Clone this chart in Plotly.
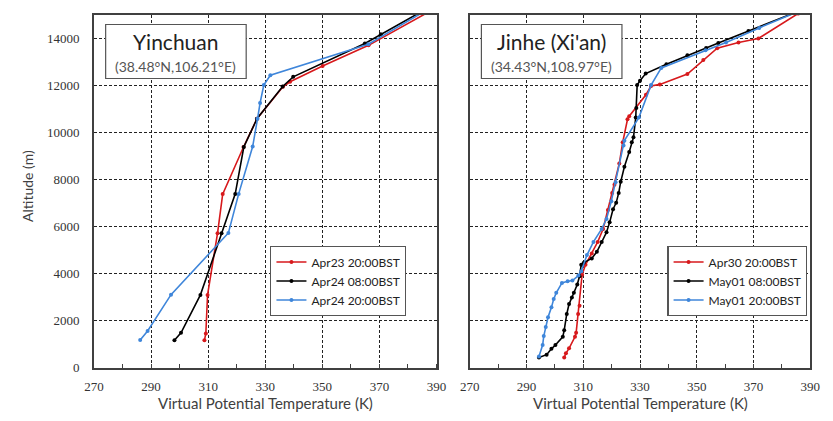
import plotly.graph_objects as go

# ---------------- data ----------------
# Yinchuan (left panel)
yc_apr23_20_T = [308.7, 309.2, 309.8, 313.3, 315.1, 322.4, 327.1, 336.2, 338.7, 350.1, 366.2, 387.0]
yc_apr23_20_Z = [1170, 1460, 3100, 5720, 7380, 9380, 10580, 11940, 12150, 12820, 13700, 15100]

yc_apr24_08_T = [298.2, 300.5, 307.3, 314.7, 319.5, 322.5, 327.1, 336.1, 339.8, 364.9, 370.5, 385.0]
yc_apr24_08_Z = [1170, 1490, 3100, 5720, 7390, 9380, 10580, 11950, 12360, 13780, 14170, 15150]

yc_apr24_20_T = [286.2, 288.8, 297.0, 317.1, 320.7, 325.6, 327.3, 328.2, 329.5, 331.8, 366.1, 385.2]
yc_apr24_20_Z = [1180, 1570, 3110, 5730, 7390, 9400, 10580, 11250, 12010, 12430, 13750, 15100]

# Jinhe (Xi'an) (right panel)
jh_apr30_20_T = [303.3, 303.9, 305.0, 307.1, 307.5, 308.2, 308.7, 309.6, 310.8, 313.0, 315.1, 317.0,
                 318.7, 320.2, 321.0, 322.7, 323.9, 325.6, 326.2, 332.1, 333.9, 337.0, 346.7, 352.3,
                 357.2, 364.7, 371.7, 385.7]
jh_apr30_20_Z = [440, 620, 830, 1320, 1490, 2290, 2640, 3960, 4380, 4860, 5350, 5900,
                 6700, 7430, 7780, 8680, 9580, 10560, 10690, 11600, 11970, 12040, 12480, 13080,
                 13580, 13820, 13990, 15050]

jh_may01_08_T = [294.4, 297.1, 298.8, 300.2, 302.8, 303.3, 304.2, 305.0, 306.0, 306.7, 307.9, 308.7,
                 309.3, 310.2, 313.0, 314.8, 316.5, 318.2, 319.3, 320.5, 321.6, 322.5, 323.2, 324.5,
                 326.2, 327.1, 327.7, 328.5, 328.7, 329.0, 330.0, 332.0, 339.3, 346.7, 353.3, 357.6,
                 368.2, 384.8]
jh_may01_08_Z = [440, 560, 810, 970, 1320, 1600, 2290, 2710, 2990, 3190, 3540, 3890,
                 4380, 4470, 4650, 4930, 5350, 5760, 6180, 6740, 7010, 7430, 7900, 8540,
                 9170, 9580, 9790, 10630, 11040, 12010, 12200, 12500, 12900, 13280, 13590, 13800,
                 14310, 15100]

jh_may01_20_T = [294.4, 295.7, 296.1, 296.8, 297.6, 298.8, 299.6, 300.5, 302.5, 304.5, 306.2, 308.3,
                 309.3, 311.3, 313.6, 316.5, 318.2, 319.9, 321.4, 324.2, 324.5, 329.6, 333.9, 337.5,
                 353.1, 360.3, 372.0, 386.0]
jh_may01_20_Z = [480, 970, 1350, 1740, 2150, 2570, 2920, 3190, 3610, 3680, 3710, 3920,
                 4100, 4790, 5350, 5900, 6320, 7080, 7880, 9440, 9650, 10630, 12010, 12740,
                 13490, 13820, 14440, 15150]

x_ticks = [270, 290, 310, 330, 350, 370, 390]
y_ticks = [0, 2000, 4000, 6000, 8000, 10000, 12000, 14000]

RED = "#D7191C"
BLACK = "#000000"
BLUE = "#3F86DA"

W, H = 833, 421
fig = go.Figure()

def add(x, y, name, color, xa, ya, legend):
    fig.add_trace(go.Scatter(
        x=x, y=y, name=name, mode="lines+markers",
        line=dict(color=color, width=1.6),
        marker=dict(color=color, size=4),
        xaxis=xa, yaxis=ya, legend=legend, cliponaxis=True))

add(yc_apr23_20_T, yc_apr23_20_Z, "Apr23 20:00BST", RED, "x", "y", "legend")
add(yc_apr24_08_T, yc_apr24_08_Z, "Apr24 08:00BST", BLACK, "x", "y", "legend")
add(yc_apr24_20_T, yc_apr24_20_Z, "Apr24 20:00BST", BLUE, "x", "y", "legend")
add(jh_apr30_20_T, jh_apr30_20_Z, "Apr30 20:00BST", RED, "x2", "y2", "legend2")
add(jh_may01_08_T, jh_may01_08_Z, "May01 08:00BST", BLACK, "x2", "y2", "legend2")
add(jh_may01_20_T, jh_may01_20_Z, "May01 20:00BST", BLUE, "x2", "y2", "legend2")

TICKFONT = dict(family="Liberation Serif", size=13, color="#333333")
SANS = "Lato"
FRAME = "#404040"

def xaxis(domain, anchor):
    return dict(domain=domain, anchor=anchor, range=[270, 390], tickvals=x_ticks,
                showgrid=True, gridcolor="#222222", gridwidth=1, griddash="3px,2px",
                zeroline=False, showline=True, mirror=True, linecolor=FRAME, linewidth=1.5,
                ticks="", tickfont=TICKFONT, ticklabelstandoff=6,
                minor=dict(dtick=10, tick0=270, ticks="inside", ticklen=4, tickcolor=FRAME,
                           showgrid=False))

def yaxis(domain, anchor, labels):
    return dict(domain=domain, anchor=anchor, range=[0, 15000], tickvals=y_ticks,
                tickformat="d",
                showgrid=True, gridcolor="#222222", gridwidth=1, griddash="3px,2px",
                zeroline=False, showline=True, mirror=True, linecolor=FRAME, linewidth=1.5,
                ticks="", tickfont=TICKFONT, showticklabels=labels, ticklabelstandoff=10)

LEGFONT = dict(family=SANS, size=12, color="#222222")
ydom = [(H - 375) / H, (H - 15) / H]
fig.update_layout(
    width=W, height=H, margin=dict(l=0, r=0, t=0, b=0),
    paper_bgcolor="white", plot_bgcolor="white",
    xaxis=xaxis([86 / W, 437 / W], "y"),
    yaxis=yaxis(ydom, "x", True),
    xaxis2=xaxis([471 / W, 820 / W], "y2"),
    yaxis2=yaxis(ydom, "x2", False),
    legend=dict(x=406 / W, y=(H - 251) / H, xanchor="right", yanchor="top",
                bgcolor="white", bordercolor="#555555", borderwidth=1.2,
                font=LEGFONT, tracegroupgap=2, itemwidth=30),
    legend2=dict(x=817 / W, y=(H - 251) / H, xanchor="right", yanchor="top",
                 bgcolor="white", bordercolor="#555555", borderwidth=1.2,
                 font=LEGFONT, tracegroupgap=2, itemwidth=30),
    showlegend=True,
)

def title_box(x0, x1, title, sub):
    fig.add_shape(type="rect", xref="paper", yref="paper",
                  x0=x0 / W, x1=x1 / W, y0=(H - 80) / H, y1=(H - 25) / H,
                  line=dict(color="#555555", width=1.2), fillcolor="white", layer="above")
    xc = (x0 + x1) / 2 / W
    fig.add_annotation(x=xc, y=(H - 42) / H, xref="paper", yref="paper",
                       xanchor="center", yanchor="middle", showarrow=False,
                       text=title, font=dict(family=SANS, size=21, color="#222222"))
    fig.add_annotation(x=xc, y=(H - 68) / H, xref="paper", yref="paper",
                       xanchor="center", yanchor="middle", showarrow=False,
                       text=sub, font=dict(family=SANS, size=14, color="#555555"))

title_box(98, 242, "Yinchuan", "(38.48°N,106.21°E)")
title_box(483, 627, "Jinhe (Xi'an)", "(34.43°N,108.97°E)")

for xc in [(86 + 437) / 2, (471 + 820) / 2]:
    fig.add_annotation(x=xc / W, y=(H - 411) / H, xref="paper", yref="paper",
                       xanchor="center", yanchor="middle", showarrow=False,
                       text="Virtual Potential Temperature (K)",
                       font=dict(family=SANS, size=15, color="#404040"))

fig.add_annotation(x=18 / W, y=(H - 190) / H, xref="paper", yref="paper",
                   xanchor="center", yanchor="middle", showarrow=False, textangle=-90,
                   text="Altitude (m)", font=dict(family=SANS, size=14, color="#404040"))

fig.write_html(
    "out.html",
    config={"displayModeBar": False},
    post_script=("document.documentElement.style.margin='0';"
                 "document.body.style.margin='0';document.body.style.padding='0';"
                 "document.documentElement.style.overflow='hidden';"
                 "document.body.style.overflow='hidden';"))
